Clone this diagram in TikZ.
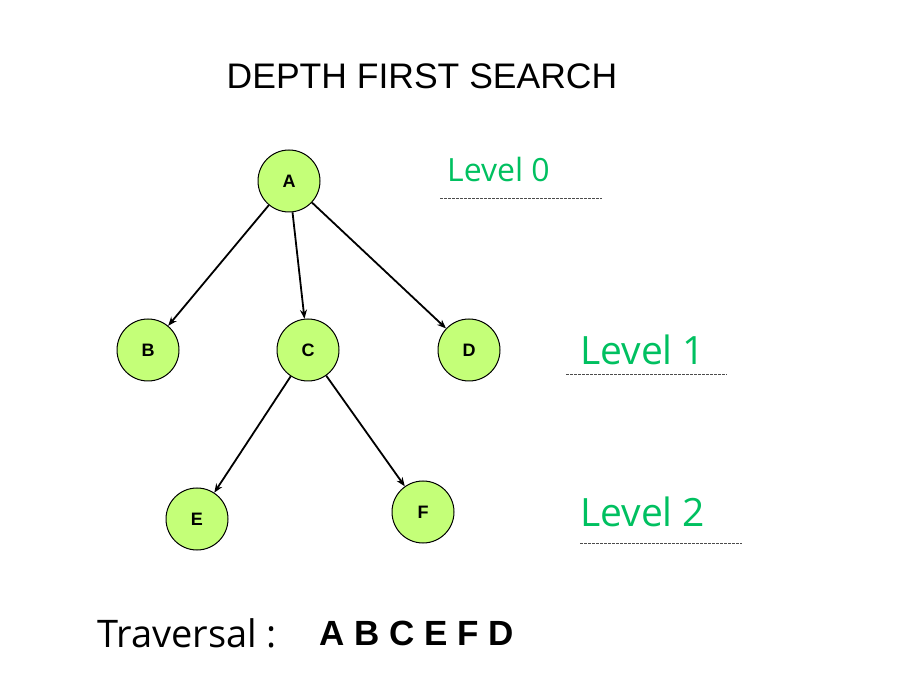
\documentclass[tikz,border=0pt]{standalone}
\usepackage{fontspec}
\setmainfont{Liberation Sans}
\newfontfamily\lvlfont{Open Sans}
\usetikzlibrary{arrows.meta}
\definecolor{nodefill}{RGB}{196,255,120}
\definecolor{lvlgreen}{RGB}{0,192,96}
\tikzset{
  vert/.style={circle,draw=black,line width=1pt,fill=nodefill,minimum size=62pt,inner sep=0pt,font=\fontsize{18}{18}\selectfont\bfseries},
  edge/.style={-{Stealth[length=9pt,width=7pt]},line width=1.8pt},
  lvl/.style={text=lvlgreen,font=\lvlfont\fontsize{39}{39}\selectfont,anchor=west,inner sep=0pt},
  uline/.style={draw=black!70,dashed,dash pattern=on 3pt off 1pt,line width=0.7pt}
}
\begin{document}
\begin{tikzpicture}[x=1pt,y=-1pt]
\useasboundingbox (0,0) rectangle (900,700);
\node[font=\fontsize{35.5}{36}\selectfont,inner sep=0pt] (title) at (422,76) {DEPTH FIRST SEARCH};
\node[vert] (A) at (289,181) {A};
\node[vert] (B) at (148,350) {B};
\node[vert] (C) at (308,350) {C};
\node[vert] (D) at (469,350) {D};
\node[vert] (E) at (197,519) {E};
\node[vert] (F) at (423,512) {F};
\draw[edge] (A) -- (B);
\draw[edge] (A) -- (C);
\draw[edge] (A) -- (D);
\draw[edge] (C) -- (E);
\draw[edge] (C) -- (F);
\node[lvl,font=\lvlfont\fontsize{32}{32}\selectfont] (l0) at (447,170) {Level 0};
\node[lvl] (l1) at (580,350) {Level 1};
\node[lvl] (l2) at (580,512) {Level 2};
\coordinate (u0a) at (440,198); \coordinate (u0b) at (602,198);
\coordinate (u1a) at (566,374); \coordinate (u1b) at (727,374);
\coordinate (u2a) at (580,543); \coordinate (u2b) at (742,543);
\draw[uline] (u0a) -- (u0b);
\draw[uline] (u1a) -- (u1b);
\draw[uline] (u2a) -- (u2b);
\node[font=\lvlfont\fontsize{38}{38}\selectfont,anchor=west,inner sep=0pt] (trav) at (97,633) {Traversal :};
\node[font=\fontsize{35}{35}\selectfont\bfseries,anchor=west,inner sep=0pt] (seq) at (319,633) {A B C E F D};
\end{tikzpicture}
\end{document}
